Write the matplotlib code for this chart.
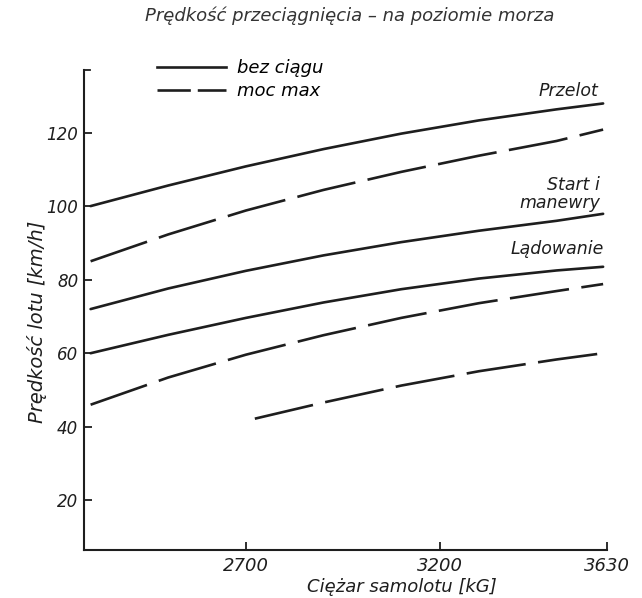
import matplotlib
matplotlib.use("Agg")
import matplotlib.pyplot as plt
from matplotlib.lines import Line2D

plt.rcParams['font.family'] = ['DejaVu Sans']
plt.rcParams['lines.scale_dashes'] = False

INK = '#1e1e1e'

# ---- data ----
x_przelot = [2300, 2500, 2700, 2900, 3100, 3300, 3500, 3620]
v_przelot_bez = [100, 105.6, 110.8, 115.5, 119.7, 123.3, 126.3, 127.9]
v_przelot_moc = [85, 92.3, 98.8, 104.4, 109.3, 113.7, 117.7, 120.8]

x_start = [2300, 2500, 2700, 2900, 3100, 3300, 3500, 3620]
v_start_bez = [72, 77.6, 82.4, 86.6, 90.2, 93.3, 96.0, 97.9]

x_lad = [2300, 2500, 2700, 2900, 3100, 3300, 3500, 3620]
v_lad_bez = [60, 65, 69.6, 73.8, 77.4, 80.3, 82.5, 83.5]
v_lad_moc = [46, 53.4, 59.6, 64.9, 69.6, 73.6, 76.9, 78.8]

x_low = [2723, 2900, 3100, 3300, 3500, 3620]
v_low_moc = [42.2, 46.6, 51.2, 55.1, 58.3, 60.0]

x_ticks = [2700, 3200, 3630]
x_tick_labels = ['2700', '3200', '3630']
y_ticks = [20, 40, 60, 80, 100, 120]
y_tick_labels = ['20', '40', '60', '80', '100', '120']

title = 'Prędkość przeciągnięcia – na poziomie morza'
xlabel = 'Ciężar samolotu [kG]'
ylabel = 'Prędkość lotu [km/h]'
legend_labels = ['bez ciągu', 'moc max']
curve_labels = ['Przelot', 'Start i\nmanewry', 'Lądowanie']

# ---- figure ----
fig = plt.figure(figsize=(6.42, 5.98), dpi=100)
W, H = 642, 598
ax_l, ax_r, ax_t, ax_b = 84, 607, 70, 550
ax = fig.add_axes([ax_l / W, (H - ax_b) / H, (ax_r - ax_l) / W, (ax_b - ax_t) / H])
ax.set_xlim(2283, 3630)
ax.set_ylim(6.5, 137)

lw = 1.9
dash = (43, 9)
solid_kw = dict(color=INK, lw=lw, solid_capstyle='round', solid_joinstyle='round')
dash_kw = dict(color=INK, lw=lw, dashes=dash, dash_capstyle='butt', dash_joinstyle='round')

ax.plot(x_przelot, v_przelot_bez, **solid_kw)
ax.plot(x_przelot, v_przelot_moc, **dash_kw)
ax.plot(x_start, v_start_bez, **solid_kw)
ax.plot(x_lad, v_lad_bez, **solid_kw)
ax.plot(x_lad, v_lad_moc, **dash_kw)
ax.plot(x_low, v_low_moc, **dash_kw)

# spines / ticks
for s in ['top', 'right']:
    ax.spines[s].set_visible(False)
for s in ['left', 'bottom']:
    ax.spines[s].set_linewidth(1.5)
    ax.spines[s].set_color(INK)

ax.set_xticks(x_ticks)
ax.set_xticklabels(x_tick_labels, fontsize=13, style='italic', color=INK)
ax.set_yticks(y_ticks)
ax.set_yticklabels(y_tick_labels, fontsize=12, style='italic', color=INK)
ax.tick_params(direction='in', length=6, width=1.3, color=INK)
ax.tick_params(axis='y', pad=4)
ax.tick_params(axis='x', pad=5)

# small hook at top of y-axis
ax.plot([0, 0.012], [1, 1], transform=ax.transAxes, color=INK, lw=1.3, clip_on=False)

ax.set_xlabel(xlabel, fontsize=13, style='italic', color=INK)
ax.xaxis.label.set_va('center')
ax.xaxis.set_label_coords((402 - ax_l) / (ax_r - ax_l), (ax_b - 587) / (ax_b - ax_t))
ax.set_ylabel(ylabel, fontsize=14, style='italic', color=INK)
ax.yaxis.label.set_va('center')
ax.yaxis.set_label_coords((37 - ax_l) / (ax_r - ax_l), (ax_b - 322) / (ax_b - ax_t))

fig.text(0.545, 1 - 16 / H, title, ha='center', va='center', fontsize=13,
         style='italic', color='#333333')

# legend
handles = [Line2D([], [], color=INK, lw=lw),
           Line2D([], [], color=INK, lw=lw, dashes=(24, 5))]
ax.legend(handles, legend_labels, loc='upper left',
          bbox_to_anchor=((157 - ax_l) / (ax_r - ax_l), (ax_b - 59) / (ax_b - ax_t)),
          frameon=False, borderpad=0, borderaxespad=0, handlelength=3.8,
          handletextpad=0.65, labelspacing=0.3,
          prop=dict(size=13, style='italic'))

# curve labels
lkw = dict(fontsize=12.5, style='italic', color=INK, ha='right', va='center')
ax.text(3607, 131.2, curve_labels[0], **lkw)
ax.text(3612, 103.4, curve_labels[1], linespacing=1.0, multialignment='right', **lkw)
ax.text(3622, 88.4, curve_labels[2], **lkw)

fig.savefig('out.png', dpi=100, facecolor='white')
